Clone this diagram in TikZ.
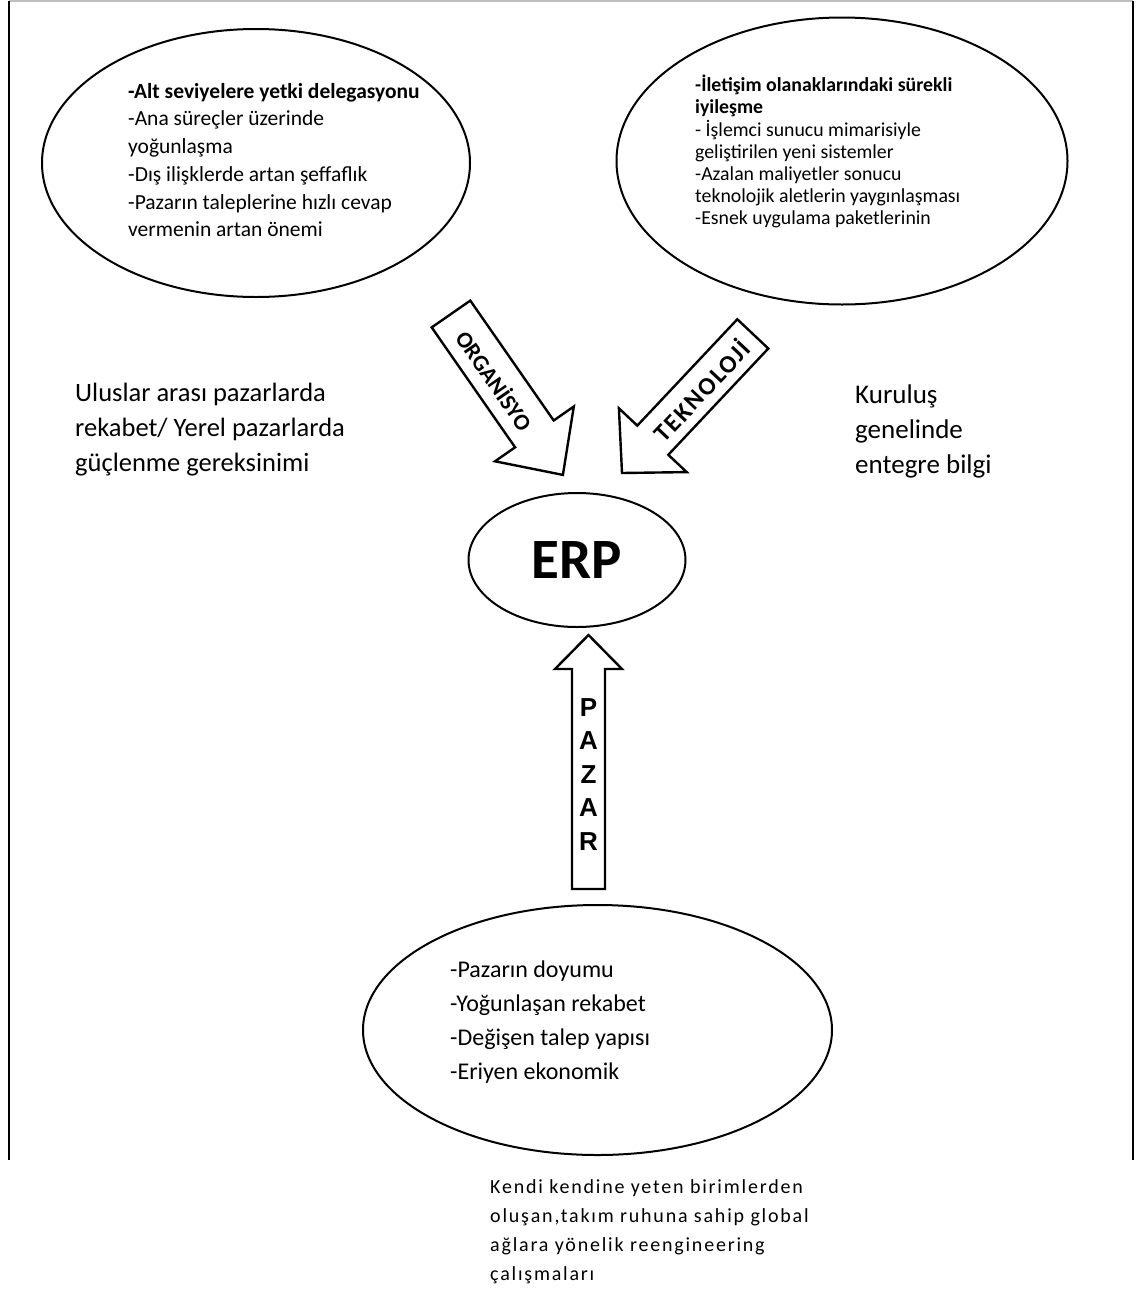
\documentclass[tikz,border=0pt]{standalone}
\usepackage{fontspec}
\setmainfont{Carlito}
\newfontfamily\arialfont{Liberation Sans}
\newfontfamily\spacedfont[LetterSpace=9]{Carlito}
\newfontfamily\tekfont[LetterSpace=7]{Carlito}
\usetikzlibrary{shapes.geometric}
\begin{document}
\begin{tikzpicture}[x=1pt,y=-1pt,
  ell/.style={draw, ellipse, line width=2pt, inner sep=0pt},
  blockarrow/.style={draw, line width=2.4pt, line join=miter, fill=white},
  txt/.style={inner sep=0pt, align=left, anchor=north west},
  frameline/.style={line width=2pt}]
\useasboundingbox (0,0) rectangle (1144,1299);
% frame
\coordinate (tl) at (9,1);
\coordinate (tr) at (1133,1);
\coordinate (bl) at (9,1160);
\coordinate (br) at (1133,1160);
\draw[line width=1.5pt, gray!50] (tl) -- (tr);
\draw[frameline] (tl) -- (bl);
\draw[frameline] (tr) -- (br);
% ellipses
\node[ell, minimum width=428pt, minimum height=268pt] (orgE) at (256,163) {};
\node[ell, minimum width=451pt, minimum height=287pt] (tekE) at (842,161) {};
\node[ell, minimum width=217pt, minimum height=134pt] (erp) at (577,560) {};
\node[ell, minimum width=469pt, minimum height=250pt] (pazE) at (597.5,1030) {};
% texts
\node[txt, font=\fontsize{21.5}{27.7}\selectfont] (orgT) at (128,83) {%
\textbf{-Alt seviyelere yetki delegasyonu}\\
-Ana süreçler üzerinde\\
yoğunlaşma\\
-Dış ilişklerde artan şeffaflık\\
-Pazarın taleplerine hızlı cevap\\
vermenin artan önemi};
\node[txt, font=\fontsize{19.8}{22.2}\selectfont] (tekT) at (695,75) {%
\textbf{-İletişim olanaklarındaki sürekli}\\
\textbf{iyileşme}\\
- İşlemci sunucu mimarisiyle\\
geliştirilen yeni sistemler\\
-Azalan maliyetler sonucu\\
teknolojik aletlerin yaygınlaşması\\
-Esnek uygulama paketlerinin};
\node[font=\bfseries\fontsize{57}{60}\selectfont, inner sep=0pt] (erpT) at (577,560) {ERP};
\node[txt, font=\fontsize{26.5}{35}\selectfont] (leftT) at (75,383) {%
Uluslar arası pazarlarda\\
rekabet/ Yerel pazarlarda\\
güçlenme gereksinimi};
\node[txt, font=\fontsize{27}{35}\selectfont] (rightT) at (855,385) {%
Kuruluş\\
genelinde\\
entegre bilgi};
\node[txt, font=\fontsize{24}{34}\selectfont] (pazT) at (450,961) {%
-Pazarın doyumu\\
-Yoğunlaşan rekabet\\
-Değişen talep yapısı\\
-Eriyen ekonomik};
\node[txt, font=\spacedfont\fontsize{20}{29.2}\selectfont] (bottomT) at (490,1179) {%
Kendi kendine yeten birimlerden\\
oluşan,takım ruhuna sahip global\\
ağlara yönelik reengineering\\
çalışmaları};
% block arrows
\draw[blockarrow] (470.3,300.6) -- (553.7,420.5) -- (573.8,406.5) -- (562.9,474.9)
  -- (495.0,461.3) -- (515.1,447.3) -- (431.7,327.4) -- cycle;
\node[font=\bfseries\fontsize{23}{23}\selectfont, rotate=-55.2, inner sep=0pt] (orgA) at (495,380) {ORGANİSYO};
\draw[blockarrow] (768.3,348.5) -- (668.3,454.8) -- (686.7,472.1) -- (622,473)
  -- (618.9,408.3) -- (637.3,425.6) -- (737.3,319.3) -- cycle;
\node[font=\tekfont\bfseries\fontsize{25}{25}\selectfont, rotate=46.7, inner sep=0pt] (tekA) at (701,390) {TEKNOLOJİ};
\draw[blockarrow] (572,889) -- (572,669) -- (555,669) -- (588.5,635) -- (622,669)
  -- (605,669) -- (605,889) -- cycle;
\node[font=\arialfont\bfseries\fontsize{26}{33.5}\selectfont, align=center, inner sep=0pt] (pazA) at (588.5,774.5) {P\\A\\Z\\A\\R};
\end{tikzpicture}
\end{document}
